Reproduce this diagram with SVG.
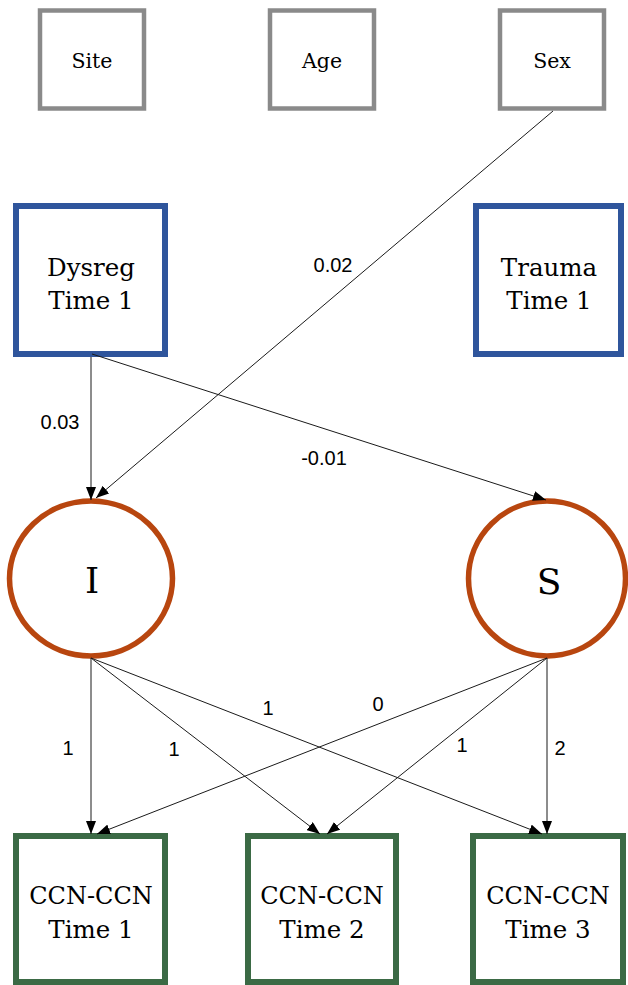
<svg xmlns="http://www.w3.org/2000/svg" width="628" height="985" viewBox="0 0 628 985">
  <style>
    .box { fill: #ffffff; }
    .cov { stroke: #8a8a8a; stroke-width: 4.5; }
    .pred { stroke: #2f559c; stroke-width: 6; }
    .lat { fill: #ffffff; stroke: #b8460f; stroke-width: 5.5; }
    .obs { stroke: #3b6a45; stroke-width: 6; }
    .nt { font-family: "DejaVu Serif", "Liberation Serif", serif; fill: #000000; text-anchor: middle; }
    .path { stroke: #1a1a1a; stroke-width: 1; fill: none; marker-end: url(#arrow); }
    .lbl { font-family: "Liberation Sans", Arial, sans-serif; font-size: 20px; fill: #000000; text-anchor: middle; }
  </style>
  <defs>
    <marker id="arrow" markerUnits="userSpaceOnUse" markerWidth="13" markerHeight="10" viewBox="0 0 13 10" refX="13" refY="5" orient="auto">
      <path d="M0,0 L13,5 L0,10 Z" fill="#000000"/>
    </marker>
  </defs>

  <rect width="628" height="985" fill="#ffffff"/>

  <!-- covariates -->
  <g id="site">
    <rect class="box cov" x="40" y="10.5" width="104" height="98"/>
    <text class="nt" x="92" y="68" font-size="20.5">Site</text>
  </g>
  <g id="age">
    <rect class="box cov" x="270" y="10.5" width="104" height="98"/>
    <text class="nt" x="322" y="68" font-size="20.5">Age</text>
  </g>
  <g id="sex">
    <rect class="box cov" x="500" y="10.5" width="104" height="98"/>
    <text class="nt" x="552" y="68" font-size="20.5">Sex</text>
  </g>

  <!-- time 1 predictors -->
  <g id="dysreg">
    <rect class="box pred" x="16" y="206" width="149" height="148"/>
    <text class="nt" x="91" y="276" font-size="24.5">Dysreg</text>
    <text class="nt" x="91" y="309" font-size="24.5">Time 1</text>
  </g>
  <g id="trauma">
    <rect class="box pred" x="476" y="206" width="145" height="148"/>
    <text class="nt" x="549" y="276" font-size="24.5">Trauma</text>
    <text class="nt" x="549" y="309" font-size="24.5">Time 1</text>
  </g>

  <!-- growth factors -->
  <g id="intercept">
    <ellipse class="lat" cx="91" cy="578.5" rx="81.5" ry="77.5"/>
    <text class="nt" x="92" y="593" font-size="36">I</text>
  </g>
  <g id="slope">
    <ellipse class="lat" cx="547" cy="578.5" rx="78.5" ry="77.5"/>
    <text class="nt" x="549" y="594" font-size="36">S</text>
  </g>

  <!-- repeated measures -->
  <g id="ccn1">
    <rect class="box obs" x="16" y="836" width="149" height="146"/>
    <text class="nt" x="91" y="904" font-size="24">CCN-CCN</text>
    <text class="nt" x="91" y="938" font-size="24.5">Time 1</text>
  </g>
  <g id="ccn2">
    <rect class="box obs" x="248" y="836" width="148" height="146"/>
    <text class="nt" x="322" y="904" font-size="24">CCN-CCN</text>
    <text class="nt" x="322" y="938" font-size="24.5">Time 2</text>
  </g>
  <g id="ccn3">
    <rect class="box obs" x="473" y="836" width="150" height="146"/>
    <text class="nt" x="548" y="904" font-size="24">CCN-CCN</text>
    <text class="nt" x="548" y="938" font-size="24.5">Time 3</text>
  </g>

  <!-- paths -->
  <g id="connectors">
    <line class="path" x1="553" y1="111" x2="96" y2="498"/>
    <line class="path" x1="91" y1="357" x2="91" y2="500"/>
    <line class="path" x1="92" y1="354" x2="546" y2="500"/>
    <line class="path" x1="91" y1="658" x2="91" y2="834"/>
    <line class="path" x1="91" y1="658" x2="320" y2="834"/>
    <line class="path" x1="91" y1="658" x2="542" y2="834"/>
    <line class="path" x1="547" y1="658" x2="97" y2="834"/>
    <line class="path" x1="547" y1="658" x2="327" y2="834"/>
    <line class="path" x1="547" y1="658" x2="547" y2="834"/>
  </g>

  <!-- path estimates -->
  <g id="labels">
    <text class="lbl" x="333" y="272">0.02</text>
    <text class="lbl" x="60" y="429">0.03</text>
    <text class="lbl" x="324" y="465">-0.01</text>
    <text class="lbl" x="68" y="755">1</text>
    <text class="lbl" x="174" y="756">1</text>
    <text class="lbl" x="268" y="715">1</text>
    <text class="lbl" x="378" y="711">0</text>
    <text class="lbl" x="462" y="752">1</text>
    <text class="lbl" x="560" y="755">2</text>
  </g>
</svg>
